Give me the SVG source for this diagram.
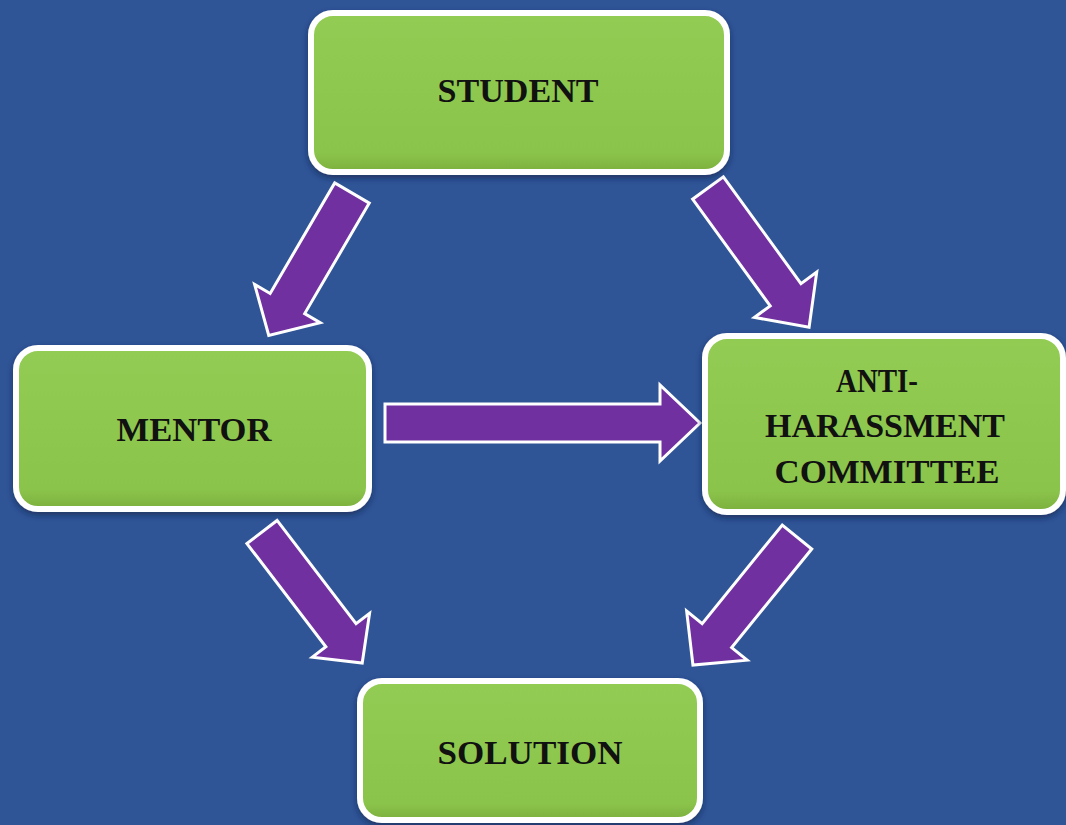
<svg xmlns="http://www.w3.org/2000/svg" width="1066" height="825" viewBox="0 0 1066 825">
<style>
.box{fill:url(#g);stroke:#ffffff;stroke-width:6;filter:url(#sh)}
.lbl{font-family:"Liberation Serif","Times New Roman",serif;font-weight:bold;font-size:34px;fill:#111111;text-anchor:middle}
.arr{fill:#7030A0;stroke:#ffffff;stroke-width:3;stroke-linejoin:miter}
</style>
<defs>
<linearGradient id="g" x1="0" y1="0" x2="0" y2="1">
<stop offset="0" stop-color="#92CC53"/>
<stop offset="0.88" stop-color="#8BC44B"/>
<stop offset="1" stop-color="#7BAF3D"/>
</linearGradient>
<filter id="sh" x="-10%" y="-10%" width="120%" height="130%">
<feDropShadow dx="0" dy="3" stdDeviation="3" flood-color="#102040" flood-opacity="0.6"/>
</filter>
</defs>
<rect x="0" y="0" width="1066" height="825" fill="#2F5597"/>
<g id="connectors">
<polygon class="arr" transform="translate(352,193) rotate(120.3)" points="0,-20 128,-20 128,-38 165,0 128,38 128,20 0,20"/>
<polygon class="arr" transform="translate(708,188) rotate(54)" points="0,-19 132,-19 132,-38.5 172,0 132,38.5 132,19 0,19"/>
<polygon class="arr" transform="translate(385,423)" points="0,-19 275,-19 275,-38 315,0 275,38 275,19 0,19"/>
<polygon class="arr" transform="translate(262,532) rotate(52.6)" points="0,-19 130,-19 130,-36 165,0 130,36 130,19 0,19"/>
<polygon class="arr" transform="translate(797,537) rotate(129.1)" points="0,-19 127,-19 127,-39 165,0 127,39 127,19 0,19"/>
</g>
<g id="student">
<rect class="box" x="311" y="13" width="416" height="159" rx="22"/>
<text class="lbl" x="518" y="102" textLength="161" lengthAdjust="spacingAndGlyphs">STUDENT</text>
</g>
<g id="mentor">
<rect class="box" x="16" y="348" width="353" height="161" rx="22"/>
<text class="lbl" x="194" y="441" textLength="155" lengthAdjust="spacingAndGlyphs">MENTOR</text>
</g>
<g id="anti-harassment-committee">
<rect class="box" x="705" y="336" width="358" height="176" rx="22"/>
<text class="lbl" x="877" y="392" textLength="82" lengthAdjust="spacingAndGlyphs">ANTI-</text>
<text class="lbl" x="885" y="437" textLength="240" lengthAdjust="spacingAndGlyphs">HARASSMENT</text>
<text class="lbl" x="887" y="483" textLength="225" lengthAdjust="spacingAndGlyphs">COMMITTEE</text>
</g>
<g id="solution">
<rect class="box" x="360" y="681" width="340" height="139" rx="22"/>
<text class="lbl" x="530" y="764" textLength="185" lengthAdjust="spacingAndGlyphs">SOLUTION</text>
</g>
</svg>
